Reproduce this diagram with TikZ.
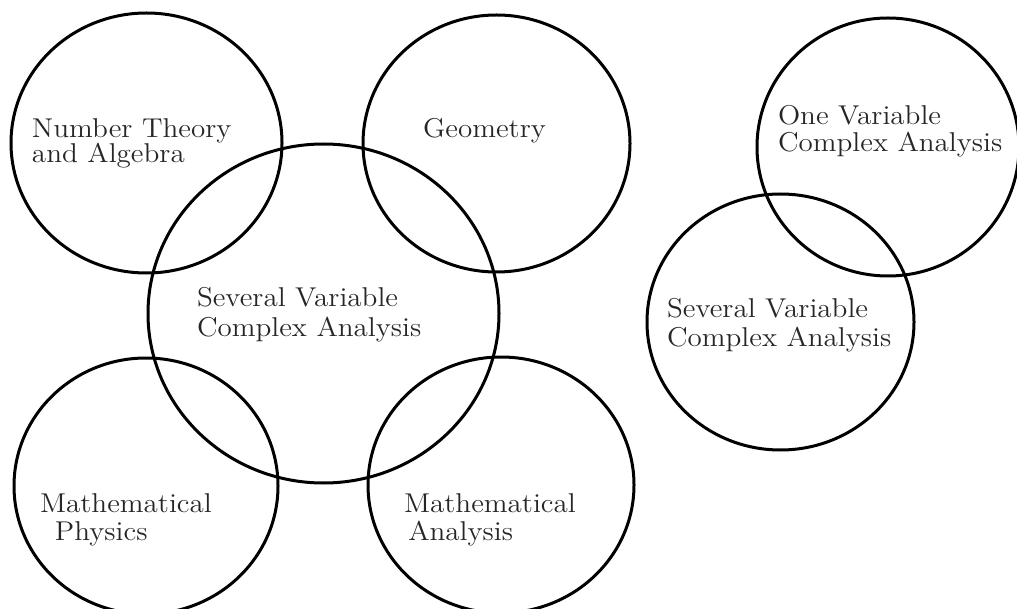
\documentclass[tikz,border=0pt]{standalone}
\usetikzlibrary{shapes.geometric}
\begin{document}
\begin{tikzpicture}[x=0.5pt,y=-0.5pt,
  ring/.style={draw=black,line width=1.5pt,ellipse,inner sep=0pt,outer sep=0pt},
  lbl/.style={anchor=base west,inner sep=0pt,outer sep=0pt,align=left,text=black!85,xscale=1.07}]
\useasboundingbox (0,0) rectangle (1017,609);
% circles
\node[ring,minimum width=135.5pt,minimum height=130pt] (nt) at (146.5,143) {};
\node[ring,minimum width=133.5pt,minimum height=128.5pt] (geo) at (496.5,143.5) {};
\node[ring,minimum width=175.5pt,minimum height=169.5pt] (scv) at (323.5,313.5) {};
\node[ring,minimum width=132pt,minimum height=128pt] (mp) at (146,486) {};
\node[ring,minimum width=133pt,minimum height=128pt] (ma) at (501,485) {};
\node[ring,minimum width=131pt,minimum height=129pt] (ovc) at (888,147) {};
\node[ring,minimum width=133.5pt,minimum height=128pt] (svc) at (780.5,322) {};
% labels (anchored at the baseline of the last line)
\node[lbl,font=\fontsize{13.6}{12.5}\selectfont] (tnt) at (32,163) {Number Theory\\and Algebra};
\node[lbl,font=\fontsize{13.6}{12.5}\selectfont] (tgeo) at (423,138) {Geometry};
\node[lbl,font=\fontsize{13.6}{15}\selectfont] (tscv) at (197,336) {Several Variable\\Complex Analysis};
\node[lbl,font=\fontsize{13.6}{13.5}\selectfont] (tovc) at (778,152) {One Variable\\Complex Analysis};
\node[lbl,font=\fontsize{13.6}{14.5}\selectfont] (tsvc) at (667,346) {Several Variable\\Complex Analysis};
\node[lbl,font=\fontsize{13.6}{14}\selectfont] (tmp) at (40,540) {Mathematical\\\hspace*{7pt}Physics};
\node[lbl,font=\fontsize{13.6}{14}\selectfont] (tma) at (404,540) {Mathematical\\\hspace*{2pt}Analysis};
\end{tikzpicture}
\end{document}
